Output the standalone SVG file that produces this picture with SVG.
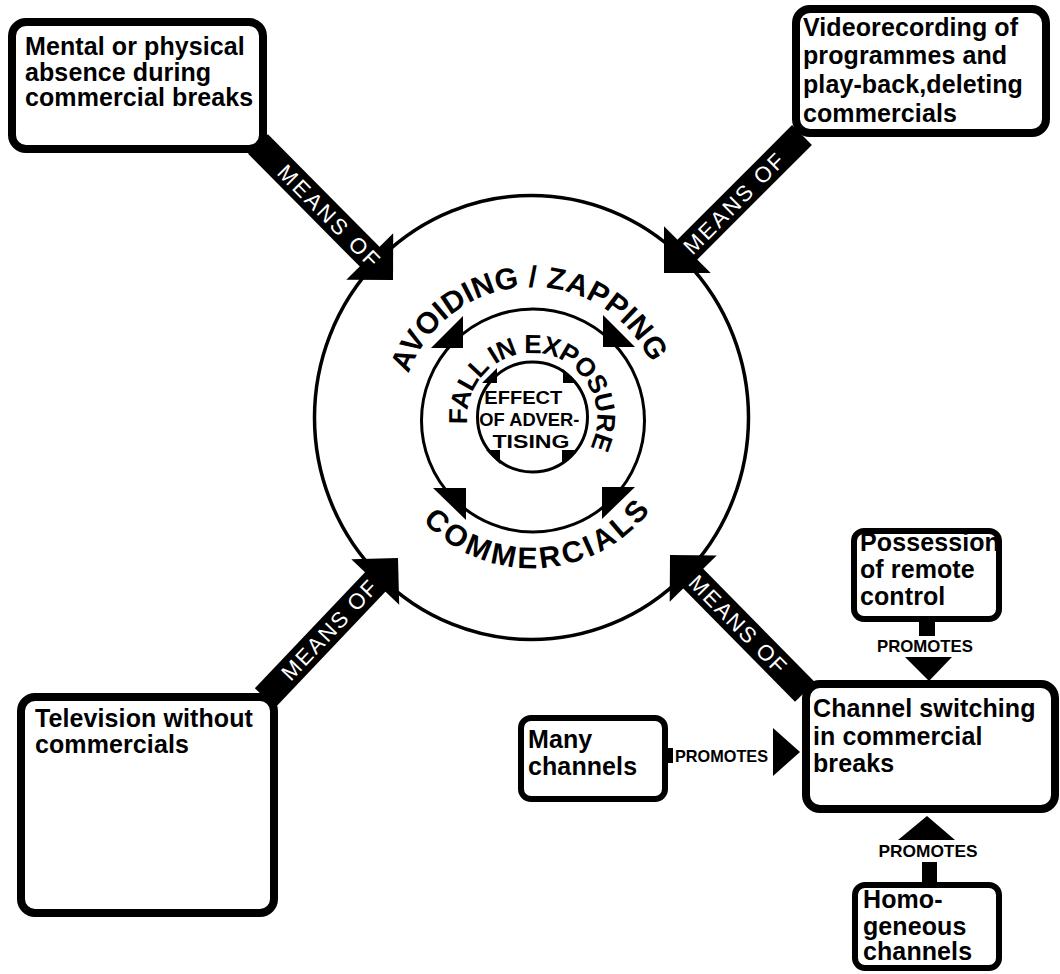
<svg xmlns="http://www.w3.org/2000/svg" width="1060" height="974" viewBox="0 0 1060 974">
<style>
text{font-family:"Liberation Sans",Arial,Helvetica,sans-serif;fill:#000;}
.box{fill:#fff;stroke:#000;stroke-width:8;}
.sbox{fill:#fff;stroke:#000;stroke-width:6;}
.lbl{font-size:25px;font-weight:bold;letter-spacing:0.1px;}
.ring{fill:none;stroke:#000;}
.band{stroke:#000;stroke-width:28;stroke-linecap:butt;}
.head{fill:#000;}
.means{font-size:22px;fill:#fff;text-anchor:middle;}
.prom{font-size:17px;font-weight:bold;text-anchor:middle;}
.ringtxt{font-weight:bold;font-size:30px;}
</style>
<defs>
<path id="pTop" d="M 403.0 440.7 A 131 131 0 1 1 662.5 429.4"/>
<path id="pBot" d="M 383.1 400.2 A 150 150 0 1 0 678.0 383.7"/>
<path id="pMid" d="M 489.8 467.4 A 65 65 0 1 1 553.7 479.3"/>
</defs>
<rect x="0" y="0" width="1060" height="974" fill="#fff"/>

<g id="cycle">
<ellipse class="ring" cx="531.5" cy="417.5" rx="217" ry="222" stroke-width="3.5"/>
<circle class="ring" cx="533" cy="420.5" r="111.5" stroke-width="3"/>
<circle class="ring" cx="532.5" cy="417" r="55" stroke-width="3"/>
<polygon class="head" points="463,348 463,316 431,348"/>
<polygon class="head" points="603,347 603,315 635,347"/>
<polygon class="head" points="466,488 433,488 466,520"/>
<polygon class="head" points="602,487 635,487 602,519"/>
<polygon class="head" points="497,383 497,368 482,383"/>
<polygon class="head" points="563,383 563,369 577,383"/>
<polygon class="head" points="500,450 486,450 500,464"/>
<polygon class="head" points="562,450 577,450 562,464"/>
<text class="ringtxt" letter-spacing="0.3"><textPath href="#pTop" startOffset="50%" text-anchor="middle">AVOIDING / ZAPPING</textPath></text>
<text class="ringtxt" letter-spacing="3.2"><textPath href="#pBot" startOffset="50%" text-anchor="middle">COMMERCIALS</textPath></text>
<text font-weight="bold" font-size="26" letter-spacing="-0.6"><textPath href="#pMid" startOffset="50%" text-anchor="middle">FALL IN EXPOSURE</textPath></text>
<text font-weight="bold" font-size="19" text-anchor="middle">
<tspan x="526" y="404" textLength="78" lengthAdjust="spacingAndGlyphs">EFFECT</tspan>
<tspan x="532" y="426" textLength="100" lengthAdjust="spacingAndGlyphs">OF ADVER-</tspan>
<tspan x="531" y="448" textLength="77" lengthAdjust="spacingAndGlyphs">TISING</tspan>
</text>
</g>

<g id="connectors">
<line class="band" x1="258" y1="144" x2="371" y2="258"/>
<polygon class="head" points="393,280 346.3,279.8 393.2,233.3"/>
<text class="means" transform="translate(329,215.6) rotate(45.2)" x="0" y="8" textLength="134" lengthAdjust="spacing">MEANS OF</text>

<line class="band" x1="802" y1="135" x2="686" y2="251"/>
<polygon class="head" points="664,273 710.7,273 664,226.3"/>
<text class="means" transform="translate(733.5,203.5) rotate(-45)" x="0" y="8" textLength="132" lengthAdjust="spacing">MEANS OF</text>

<line class="band" x1="265" y1="698" x2="376.6" y2="580.5"/>
<polygon class="head" points="398,558 399.2,604.7 351.3,559.2"/>
<text class="means" transform="translate(329,630) rotate(-46.5)" x="0" y="8" textLength="128" lengthAdjust="spacing">MEANS OF</text>

<line class="band" x1="805" y1="692" x2="691.8" y2="577.1"/>
<polygon class="head" points="670,555 716.7,555.4 669.7,601.7"/>
<text class="means" transform="translate(738,624) rotate(45.4)" x="0" y="8" textLength="128" lengthAdjust="spacing">MEANS OF</text>

<rect x="919" y="618" width="16" height="18" fill="#000"/>
<text class="prom" x="925" y="652" textLength="96" lengthAdjust="spacingAndGlyphs">PROMOTES</text>
<polygon class="head" points="905,657 952,657 929,681"/>

<rect x="665" y="748" width="8" height="15" fill="#000"/>
<text class="prom" x="721.5" y="762" textLength="93" lengthAdjust="spacingAndGlyphs">PROMOTES</text>
<polygon class="head" points="773,728 773,776 800,752"/>

<polygon class="head" points="898,840 955,840 927,816"/>
<text class="prom" x="928" y="857" textLength="99" lengthAdjust="spacingAndGlyphs">PROMOTES</text>
<rect x="922" y="862" width="15" height="25" fill="#000"/>
</g>

<g id="node-absence">
<rect class="box" x="12" y="22" width="251" height="127" rx="14"/>
<text class="lbl"><tspan x="25" y="55">Mental or physical</tspan><tspan x="25" y="81">absence during</tspan><tspan x="25" y="106">commercial breaks</tspan></text>
</g>

<g id="node-video">
<rect class="box" x="796" y="9" width="250" height="124" rx="14"/>
<text class="lbl" font-size="26"><tspan x="803" y="36">Videorecording of</tspan><tspan x="803" y="64">programmes and</tspan><tspan x="803" y="93">play-back,deleting</tspan><tspan x="803" y="122">commercials</tspan></text>
</g>

<g id="node-tv">
<rect class="box" x="21" y="697" width="253" height="216" rx="14"/>
<text class="lbl" font-size="24"><tspan x="35" y="727">Television without</tspan><tspan x="35" y="753">commercials</tspan></text>
</g>

<g id="node-switching">
<rect class="box" x="806" y="684" width="249" height="125" rx="14"/>
<text class="lbl"><tspan x="813" y="717">Channel switching</tspan><tspan x="813" y="745">in commercial</tspan><tspan x="813" y="772">breaks</tspan></text>
<text x="1028" y="812" font-size="9" font-weight="bold">w 86</text>
</g>

<g id="node-remote">
<rect class="sbox" x="854" y="531" width="145" height="88" rx="10"/>
<text class="lbl" font-size="23" letter-spacing="0"><tspan x="860" y="551">Possession</tspan><tspan x="860" y="578">of remote</tspan><tspan x="860" y="605">control</tspan></text>
</g>

<g id="node-many">
<rect class="sbox" x="521" y="718" width="144" height="81" rx="10"/>
<text class="lbl"><tspan x="528" y="748">Many</tspan><tspan x="528" y="775">channels</tspan></text>
</g>

<g id="node-homogeneous">
<rect class="sbox" x="855" y="885" width="144" height="83" rx="10"/>
<text class="lbl"><tspan x="863" y="908">Homo-</tspan><tspan x="863" y="935">geneous</tspan><tspan x="863" y="960">channels</tspan></text>
</g>
</svg>
